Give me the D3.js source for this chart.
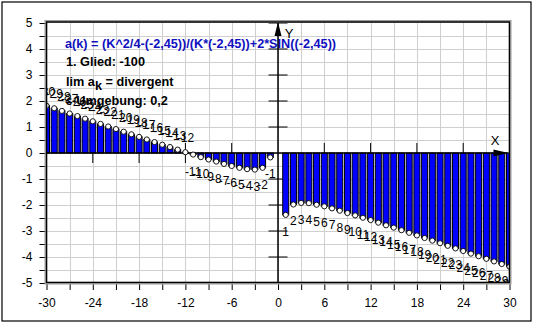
<!DOCTYPE html>
<html><head><meta charset="utf-8">
<script src="https://cdn.jsdelivr.net/npm/d3@7"></script>
<style>body{margin:0;background:#fff}svg{display:block}</style>
</head><body>
<script>
const ks = [-30,-29,-28,-27,-26,-25,-24,-23,-22,-21,-20,-19,-18,-17,-16,-15,-14,-13,-12,-11,-10,-9,-8,-7,-6,-5,-4,-3,-2,-1,
            1,2,3,4,5,6,7,8,9,10,11,12,13,14,15,16,17,18,19,20,21,22,23,24,25,26,27,28,29,30];
const values = [1.82,1.72,1.62,1.52,1.42,1.32,1.22,1.12,1.02,0.92,0.82,0.72,0.62,0.52,0.42,0.32,0.23,0.13,0.03,-0.06,-0.16,-0.25,-0.33,-0.42,-0.50,-0.57,-0.62,-0.64,-0.57,-0.17,
                -2.38,-1.98,-1.92,-1.93,-1.99,-2.05,-2.13,-2.22,-2.31,-2.40,-2.49,-2.58,-2.68,-2.78,-2.87,-2.97,-3.07,-3.17,-3.27,-3.37,-3.47,-3.57,-3.67,-3.77,-3.87,-3.97,-4.07,-4.17,-4.27,-4.37];
const xTickLabels = [-30,-24,-18,-12,-6,0,6,12,18,24,30];
const yTickLabels = [-5,-4,-3,-2,-1,0,1,2,3,4,5];
const infoLines = ["a(k) = (K^2/4-(-2,45))/(K*(-2,45))+2*SIN((-2,45))", "1. Glied: -100", "lim a", "ε-Umgebung: 0,2"];

const W = 533, H = 324;
const L = 46.5, R = 509.5, T = 23, B = 283;
const x = d3.scaleLinear().domain([-30, 30]).range([L, R]);
const y = d3.scaleLinear().domain([-5, 5]).range([B, T]);
const font = "Arial, 'Liberation Sans', sans-serif";

const svg = d3.select("body").append("svg").attr("width", W).attr("height", H);
svg.append("rect").attr("x", 2).attr("y", 2).attr("width", 529).attr("height", 319)
  .attr("fill", "#fff").attr("stroke", "#000").attr("stroke-width", 1.2);

svg.append("clipPath").attr("id", "pc").append("rect")
  .attr("x", L).attr("y", T).attr("width", R - L).attr("height", B - T);

// grid
const grid = svg.append("g").attr("stroke", "#cfcfcf").attr("stroke-width", 1);
d3.range(-27, 30, 3).forEach(v => grid.append("line")
  .attr("x1", Math.round(x(v)) + 0.5).attr("x2", Math.round(x(v)) + 0.5).attr("y1", T).attr("y2", B));
d3.range(-4.5, 5, 0.5).forEach(v => grid.append("line")
  .attr("y1", Math.round(y(v)) + 0.5).attr("y2", Math.round(y(v)) + 0.5).attr("x1", L).attr("x2", R));

// outer axes (left & bottom)
const leftAxis = d3.axisLeft(y).tickValues(d3.range(-5, 5.01, 0.5)).tickSize(6)
  .tickFormat(d => yTickLabels.includes(d) ? d : "");
const gl = svg.append("g").attr("transform", `translate(${L - 1},0)`).call(leftAxis);
gl.select(".domain").remove();
gl.selectAll("text").attr("font-family", font).attr("font-size", 12).attr("fill", "#000").attr("dx", -4);

const bottomAxis = d3.axisBottom(x).tickValues(d3.range(-30, 30.01, 3)).tickSize(6)
  .tickFormat(d => xTickLabels.includes(d) ? d : "");
const gb = svg.append("g").attr("transform", `translate(0,${B + 1})`).call(bottomAxis);
gb.select(".domain").remove();
gb.selectAll("text").attr("font-family", font).attr("font-size", 12).attr("fill", "#000").attr("dy", "1.2em");

// plot content
const plot = svg.append("g").attr("clip-path", "url(#pc)");
const data = ks.map((k, i) => ({k, v: values[i]}));

// info text
const info = plot.append("g").attr("font-family", font).attr("font-size", 12.7).attr("font-weight", "bold");
info.append("text").attr("x", 65).attr("y", 48).attr("fill", "#1010c0").text(infoLines[0]);
info.append("text").attr("x", 66).attr("y", 66).attr("fill", "#000").text(infoLines[1]);
const lim = info.append("text").attr("x", 66).attr("y", 86).attr("fill", "#000");
lim.append("tspan").text(infoLines[2]);
lim.append("tspan").attr("dy", 4).text("k");
lim.append("tspan").attr("dy", -4).text("  = divergent");
info.append("text").attr("x", 66).attr("y", 105).attr("fill", "#000").text(infoLines[3]);

// central axis ticks
const ax = plot.append("g").attr("stroke", "#000").attr("stroke-width", 1);
d3.range(-24, 25, 6).filter(v => v !== 0).forEach(v => ax.append("line")
  .attr("x1", x(v)).attr("x2", x(v)).attr("y1", y(0) - 10).attr("y2", y(0) + 10));
d3.range(-5, 6, 1).filter(v => v !== 0).forEach(v => ax.append("line")
  .attr("x1", x(0) - 9.5).attr("x2", x(0) + 9.5).attr("y1", y(v)).attr("y2", y(v)));

// bars
const bw = (x(1) - x(0)) * 0.78;
plot.append("g").selectAll("rect").data(data).join("rect")
  .attr("x", d => x(d.k) - bw / 2).attr("width", bw)
  .attr("y", d => y(Math.max(0, d.v))).attr("height", d => Math.abs(y(d.v) - y(0)))
  .attr("fill", "#0000ff").attr("stroke", "#000").attr("stroke-width", 1);

// axes lines
plot.append("line").attr("x1", L).attr("x2", R - 2).attr("y1", y(0)).attr("y2", y(0))
  .attr("stroke", "#000").attr("stroke-width", 1.5);
plot.append("line").attr("x1", x(0)).attr("x2", x(0)).attr("y1", T).attr("y2", B)
  .attr("stroke", "#000").attr("stroke-width", 1.5);
plot.append("path").attr("d", `M${R - 1},${y(0)} L${R - 16},${y(0) - 3.5} L${R - 16},${y(0) + 3.5} Z`).attr("fill", "#000");
plot.append("path").attr("d", `M${x(0)},${T - 1} L${x(0) - 3.5},${T + 13} L${x(0) + 3.5},${T + 13} Z`).attr("fill", "#000");
plot.append("text").attr("x", 495).attr("y", 145).attr("font-family", font).attr("font-size", 13).attr("text-anchor", "middle").text("X");
plot.append("text").attr("x", 289).attr("y", 38).attr("font-family", font).attr("font-size", 13).attr("text-anchor", "middle").text("Y");

// points
plot.append("g").selectAll("circle").data(data).join("circle")
  .attr("cx", d => x(d.k)).attr("cy", d => y(d.v)).attr("r", 2.6)
  .attr("fill", "#fff").attr("stroke", "#000").attr("stroke-width", 0.9);

// point labels
plot.append("g").selectAll("text").data(data).join("text")
  .attr("x", d => x(d.k)).attr("y", d => y(d.v) + (d.v >= 0 ? -10 : 21))
  .attr("text-anchor", "middle").attr("font-family", font).attr("font-size", 12).attr("fill", "#000")
  .text(d => d.k);

// frame
svg.append("rect").attr("x", L - 1.5).attr("y", T - 2.5).attr("width", R - L + 3).attr("height", B - T + 3.5)
  .attr("fill", "none").attr("stroke", "#999").attr("stroke-width", 1);
svg.append("rect").attr("x", L).attr("y", T - 1).attr("width", R - L).attr("height", B - T + 0.5)
  .attr("fill", "none").attr("stroke", "#000").attr("stroke-width", 1.6);
</script>
</body></html>
